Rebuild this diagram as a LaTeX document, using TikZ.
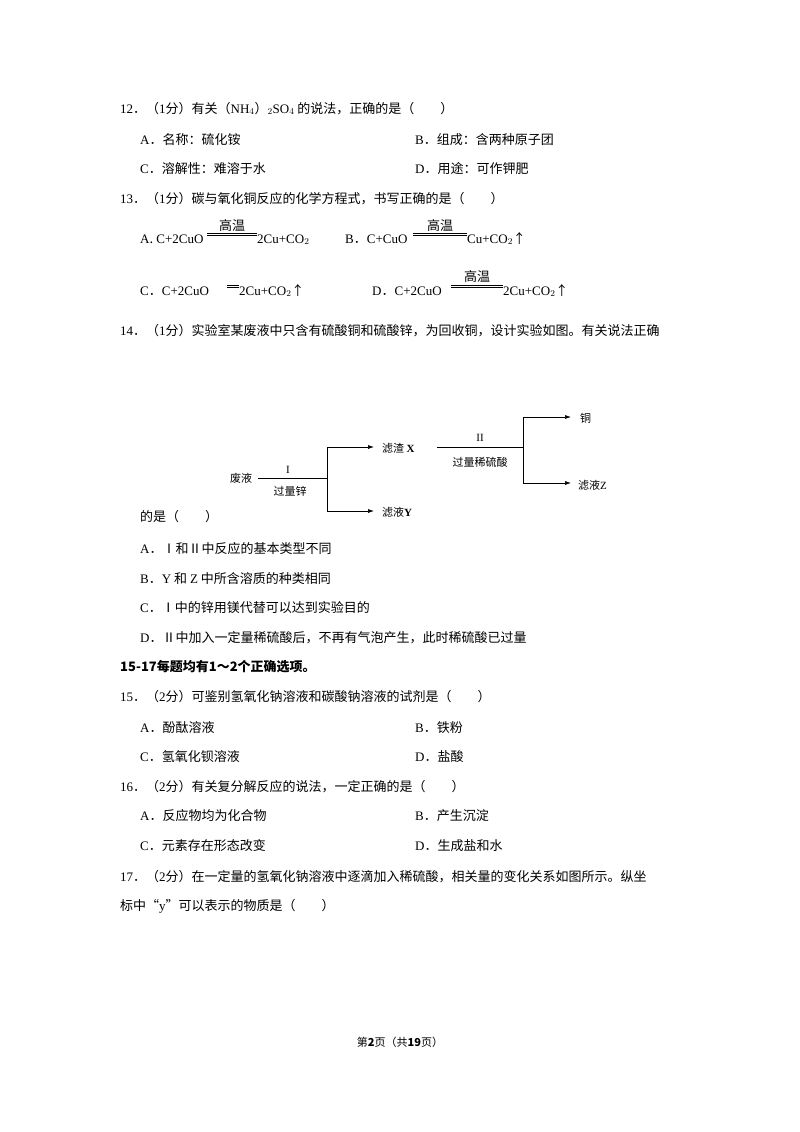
\documentclass[tikz,border=0pt]{standalone}
\usepackage{fontspec}
\setmainfont{Noto Sans CJK SC}
\newfontfamily\lat{Liberation Serif}
\usetikzlibrary{arrows.meta}
\begin{document}
\begin{tikzpicture}[x=1pt,y=-1pt,
  t/.style={anchor=base west,inner sep=0pt,font=\fontsize{13}{15}\selectfont},
  c/.style={anchor=base,inner sep=0pt,font=\fontsize{13}{15}\selectfont},
  s/.style={anchor=base,inner sep=0pt,font=\fontsize{11}{13}\selectfont},
  eq/.style={line width=0.8pt},
  ar/.style={-{Latex[length=6pt,width=4pt]},line width=0.6pt},
  ln/.style={line width=0.6pt}]
\useasboundingbox[fill=white] (0,0) rectangle (800,1132);
\node[t] (q12) at (120,113) {{\lat 12}．（{\lat 1}分）有关（{\lat NH$_4$}）{\lat $_2$SO$_4$} 的说法，正确的是（　　）};
\node[t] (q12a) at (140,144) {{\lat A}．名称：硫化铵};
\node[t] (q12b) at (415,144) {{\lat B}．组成：含两种原子团};
\node[t] (q12c) at (140,173) {{\lat C}．溶解性：难溶于水};
\node[t] (q12d) at (415,173) {{\lat D}．用途：可作钾肥};
\node[t] (q13) at (120,203) {{\lat 13}．（{\lat 1}分）碳与氧化铜反应的化学方程式，书写正确的是（　　）};
% A
\node[t] (ea1) at (140,243) {{\lat A}.{\lat\ C+2CuO}};
\coordinate (ea2) at (207,235.8); \coordinate (ea3) at (257,235.8);
\draw[eq] (ea2) -- (ea3) ([yshift=2.6pt]ea2) -- ([yshift=2.6pt]ea3);
\node[t] (ea4) at (257,243) {\lat 2Cu+CO$_2$};
\node[c] (ea5) at (232,230) {高温};
% B
\node[t] (eb1) at (345,243) {{\lat B}．{\lat C+CuO}};
\coordinate (eb2) at (413,235.8); \coordinate (eb3) at (467,235.8);
\draw[eq] (eb2) -- (eb3) ([yshift=2.6pt]eb2) -- ([yshift=2.6pt]eb3);
\node[t] (eb4) at (467,243) {{\lat Cu+CO$_2$}↑};
\node[c] (eb5) at (440,230) {高温};
% C
\node[t] (ec1) at (140,295) {{\lat C}．{\lat C+2CuO}};
\coordinate (ec2) at (227,287.8); \coordinate (ec3) at (239,287.8);
\draw[eq] (ec2) -- (ec3) ([yshift=2.6pt]ec2) -- ([yshift=2.6pt]ec3);
\node[t] (ec4) at (239,295) {{\lat 2Cu+CO$_2$}↑};
% D
\node[t] (ed1) at (372,295) {{\lat D}．{\lat C+2CuO}};
\coordinate (ed2) at (451,287.8); \coordinate (ed3) at (503,287.8);
\draw[eq] (ed2) -- (ed3) ([yshift=2.6pt]ed2) -- ([yshift=2.6pt]ed3);
\node[t] (ed4) at (503,295) {{\lat 2Cu+CO$_2$}↑};
\node[c] (ed5) at (477,281) {高温};
\node[t] (q14) at (120,335) {{\lat 14}．（{\lat 1}分）实验室某废液中只含有硫酸铜和硫酸锌，为回收铜，设计实验如图。有关说法正确};
% diagram
\node[s] (fy) at (241,482) {废液};
\coordinate (f1) at (258,478); \coordinate (f2) at (327,478);
\draw[ln] (f1) -- (f2);
\node[s] (i1) at (288,473) {\lat I};
\node[s] (zn) at (290,495) {过量锌};
\coordinate (v1) at (327,447); \coordinate (v2) at (327,511);
\draw[ln] (v1) -- (v2);
\coordinate (x0) at (374,447); \coordinate (y0) at (374,511);
\draw[ar] (v1) -- (x0);
\draw[ar] (v2) -- (y0);
\node[s,anchor=base west] (xx) at (382,452) {滤渣 {\lat\bfseries X}};
\node[s,anchor=base west] (yy) at (382,516) {滤液{\lat\bfseries Y}};
\coordinate (g1) at (437,447); \coordinate (g2) at (523,447);
\draw[ln] (g1) -- (g2);
\node[s] (i2) at (480,441) {\lat II};
\node[s] (ac) at (480,466) {过量稀硫酸};
\coordinate (w1) at (523,417); \coordinate (w2) at (523,483);
\draw[ln] (w1) -- (w2);
\coordinate (cu0) at (571,417); \coordinate (z0) at (571,483);
\draw[ar] (w1) -- (cu0);
\draw[ar] (w2) -- (z0);
\node[s,anchor=base west] (cu) at (580,422) {铜};
\node[s,anchor=base west] (zz) at (578,489) {滤液{\lat Z}};
\node[t] (q14b) at (140,521) {的是（　　）};
\node[t] (q14a) at (140,553) {{\lat A}．Ⅰ和Ⅱ中反应的基本类型不同};
\node[t] (q14bb) at (140,583) {{\lat B}．{\lat Y} 和 {\lat Z} 中所含溶质的种类相同};
\node[t] (q14c) at (140,612) {{\lat C}．Ⅰ中的锌用镁代替可以达到实验目的};
\node[t] (q14d) at (140,642) {{\lat D}．Ⅱ中加入一定量稀硫酸后，不再有气泡产生，此时稀硫酸已过量};
\node[t,font=\fontsize{13}{15}\selectfont\bfseries] (hd) at (120,671) {15-17每题均有1～2个正确选项。};
\node[t] (q15) at (120,701) {{\lat 15}．（{\lat 2}分）可鉴别氢氧化钠溶液和碳酸钠溶液的试剂是（　　）};
\node[t] (q15a) at (140,732) {{\lat A}．酚酞溶液};
\node[t] (q15b) at (415,732) {{\lat B}．铁粉};
\node[t] (q15c) at (140,761) {{\lat C}．氢氧化钡溶液};
\node[t] (q15d) at (415,761) {{\lat D}．盐酸};
\node[t] (q16) at (120,791) {{\lat 16}．（{\lat 2}分）有关复分解反应的说法，一定正确的是（　　）};
\node[t] (q16a) at (140,820) {{\lat A}．反应物均为化合物};
\node[t] (q16b) at (415,820) {{\lat B}．产生沉淀};
\node[t] (q16c) at (140,850) {{\lat C}．元素存在形态改变};
\node[t] (q16d) at (415,850) {{\lat D}．生成盐和水};
\node[t] (q17) at (120,881) {{\lat 17}．（{\lat 2}分）在一定量的氢氧化钠溶液中逐滴加入稀硫酸，相关量的变化关系如图所示。纵坐};
\node[t] (q17b) at (120,910) {标中“{\lat y}”可以表示的物质是（　　）};
\node[c,font=\fontsize{11}{13}\selectfont] (ft) at (400,1046) {第\textbf{2}页（共\textbf{19}页）};
\end{tikzpicture}
\end{document}
